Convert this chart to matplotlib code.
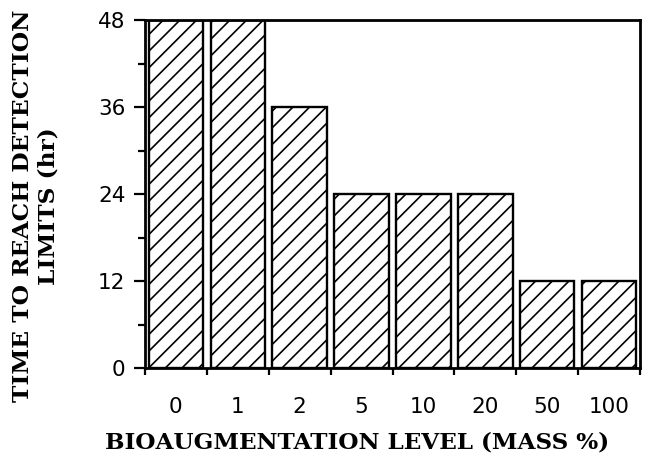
import matplotlib
matplotlib.use("Agg")
import matplotlib.pyplot as plt
import numpy as np

# data
levels = ["0", "1", "2", "5", "10", "20", "50", "100"]
hours = [48, 48, 36, 24, 24, 24, 12, 12]
yticks = [0, 12, 24, 36, 48]

plt.rcParams["hatch.linewidth"] = 1.2

fig = plt.figure(figsize=(6.51, 4.70), dpi=100)
ax = fig.add_axes([145 / 651, 1 - 368 / 470, 495 / 651, 348 / 470])

x = np.arange(len(levels))
ax.bar(x, hours, width=0.88, facecolor="white", edgecolor="black",
       linewidth=1.7, hatch="//", zorder=2)

ax.set_xlim(-0.5, len(levels) - 0.5)
ax.set_ylim(0, 48)

ax.set_xticks(x)
ax.set_xticklabels(levels, family="DejaVu Sans", fontsize=15.5)
ax.set_xticks(np.arange(len(levels) + 1) - 0.5, minor=True)
ax.tick_params(axis="x", which="major", length=0, pad=21)
ax.tick_params(axis="x", which="minor", length=5, width=1.6, direction="out")

ax.set_yticks(yticks)
ax.set_yticklabels([str(v) for v in yticks], family="DejaVu Sans", fontsize=15.5)
ax.set_yticks([6, 18, 30, 42], minor=True)
ax.tick_params(axis="y", which="major", length=8, width=1.6, pad=6)
ax.tick_params(axis="y", which="minor", length=5, width=1.6)

for s in ax.spines.values():
    s.set_linewidth(2.0)

fig.text(357 / 651, 1 - 443 / 470, "BIOAUGMENTATION LEVEL (MASS %)",
         ha="center", va="center", family="DejaVu Serif", fontweight="bold",
         fontsize=16.7)
fig.text(36 / 651, 1 - 206 / 470, "TIME TO REACH DETECTION\nLIMITS (hr)",
         ha="center", va="center", rotation=90, family="DejaVu Serif",
         fontweight="bold", fontsize=16.8, linespacing=1.2,
         multialignment="center")

fig.savefig("out.png", dpi=100)
